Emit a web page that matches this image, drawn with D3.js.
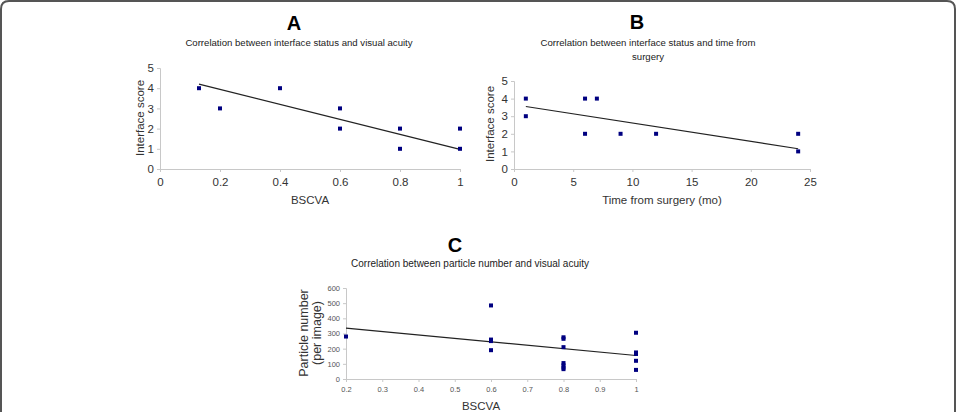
<!DOCTYPE html>
<html><head><meta charset="utf-8">
<script src="https://cdn.jsdelivr.net/npm/d3@7"></script>
<style>body{margin:0;background:#fff}svg{display:block;font-family:"Liberation Sans",Arial,sans-serif}</style>
</head><body><svg id="c" width="957" height="412"></svg>
<script>
// Panel A: interface score vs BSCVA
const aX = [0.13, 0.2, 0.4, 0.6, 0.6, 0.8, 0.8, 1, 1];
const aY = [4, 3, 4, 3, 2, 2, 1, 2, 1];
const aTrend = [[0.13, 4.2], [1, 0.97]];
const aXTicks = [0, 0.2, 0.4, 0.6, 0.8, 1];
const aYTicks = [0, 1, 2, 3, 4, 5];
// Panel B: interface score vs time from surgery
const bX = [1, 1, 6, 7, 6, 9, 12, 24, 24];
const bY = [4, 3, 4, 4, 2, 2, 2, 2, 1];
const bTrend = [[1, 3.55], [24, 1.15]];
const bXTicks = [0, 5, 10, 15, 20, 25];
const bYTicks = [0, 1, 2, 3, 4, 5];
// Panel C: particle number vs BSCVA
const cX = [0.2, 0.6, 0.6, 0.6, 0.6, 0.8, 0.8, 0.8, 0.8, 0.8, 0.8, 0.8, 1, 1, 1, 1, 1];
const cY = [280, 485, 260, 250, 190, 275, 265, 210, 105, 90, 75, 65, 305, 175, 165, 120, 60];
const cTrend = [[0.2, 335], [1, 155]];
const cXTicks = [0.2, 0.3, 0.4, 0.5, 0.6, 0.7, 0.8, 0.9, 1];
const cYTicks = [0, 100, 200, 300, 400, 500, 600];

const svg = d3.select("#c");
svg.append("path")
  .attr("d", "M1,420 L1,9 Q1,1 9,1 L947,1 Q955,1 955,9 L955,420")
  .attr("fill", "none").attr("stroke", "#555").attr("stroke-width", 2);

function panel(o) {
  const x = d3.scaleLinear().domain(o.xd).range([o.x0, o.x1]);
  const y = d3.scaleLinear().domain(o.yd).range([o.y0, o.y1]);
  const g = svg.append("g");
  const ax = g.append("g").attr("transform", `translate(0,${o.y0})`)
    .call(d3.axisBottom(x).tickValues(o.xt).tickSize(3).tickPadding(o.tpad).tickFormat(d => String(d)));
  const ay = g.append("g").attr("transform", `translate(${o.x0},0)`)
    .call(d3.axisLeft(y).tickValues(o.yt).tickSize(3).tickPadding(3).tickFormat(d => String(d)));
  [ax, ay].forEach(a => {
    a.select(".domain").attr("stroke", "#c8c8c8");
    a.selectAll(".tick line").attr("stroke", "#c8c8c8");
    a.selectAll("text").attr("fill", o.tcol).style("font-size", o.tfs + "px")
      .style("font-family", o.tff || "'Liberation Sans', Arial, sans-serif");
  });
  g.append("line")
    .attr("x1", x(o.trend[0][0])).attr("y1", y(o.trend[0][1]))
    .attr("x2", x(o.trend[1][0])).attr("y2", y(o.trend[1][1]))
    .attr("stroke", "#222").attr("stroke-width", 1.2);
  g.selectAll("rect.pt").data(o.px.map((v, i) => [v, o.py[i]])).join("rect")
    .attr("x", d => x(d[0]) - 2).attr("y", d => y(d[1]) - 2)
    .attr("width", 4).attr("height", 4).attr("fill", "#000080");
  g.append("text").attr("x", o.lx).attr("y", o.ly).attr("text-anchor", "middle")
    .style("font-size", "20px").style("font-weight", "bold").text(o.letter);
  o.sub.forEach((s, i) => g.append("text").attr("x", o.sx).attr("y", o.sy + i * 14)
    .attr("text-anchor", "middle").style("font-size", o.sfs + "px").attr("fill", "#222").text(s));
  g.append("text").attr("x", o.xlx).attr("y", o.xly).attr("text-anchor", "middle")
    .style("font-size", o.afs + "px").attr("fill", "#333").text(o.xl);
  o.yl.forEach((s, i) => g.append("text")
    .attr("transform", `translate(${o.ylx + i * o.ylgap},${o.yly}) rotate(-90)`)
    .attr("text-anchor", "middle").style("font-size", o.yfs + "px").attr("fill", "#333").text(s));
}

panel({xd: [0, 1], yd: [0, 5], x0: 160, x1: 460, y0: 169, y1: 68, xt: aXTicks, yt: aYTicks,
  px: aX, py: aY, trend: aTrend, tfs: 11.5, tcol: "#333", tpad: 6, letter: "A", lx: 294, ly: 30,
  sub: ["Correlation between interface status and visual acuity"], sx: 299, sy: 46, sfs: 9.6,
  xl: "BSCVA", xlx: 310, xly: 204, yl: ["Interface score"], ylx: 144, yly: 118, ylgap: 0, afs: 11.5, yfs: 11.5});

panel({xd: [0, 25], yd: [0, 5], x0: 514, x1: 810, y0: 169, y1: 81, xt: bXTicks, yt: bYTicks,
  px: bX, py: bY, trend: bTrend, tfs: 11.5, tcol: "#333", tpad: 6, letter: "B", lx: 637, ly: 29,
  sub: ["Correlation between interface status and time from", "surgery"], sx: 648, sy: 46, sfs: 9.6,
  xl: "Time from surgery (mo)", xlx: 662, xly: 204, yl: ["Interface score"], ylx: 494, yly: 124, ylgap: 0, afs: 11.5, yfs: 11.5});

panel({xd: [0.2, 1], yd: [0, 600], x0: 346, x1: 636, y0: 379, y1: 288, xt: cXTicks, yt: cYTicks,
  px: cX, py: cY, trend: cTrend, tfs: 7.5, tcol: "#555", tpad: 5, tff: "'Liberation Sans Narrow', 'Liberation Sans', Arial", letter: "C", lx: 455, ly: 252,
  sub: ["Correlation between particle number and visual acuity"], sx: 470, sy: 267, sfs: 10,
  xl: "BSCVA", xlx: 481, xly: 410, yl: ["Particle number", "(per image)"], ylx: 308, yly: 333, ylgap: 13, afs: 11.5, yfs: 12.5});
</script></body></html>
